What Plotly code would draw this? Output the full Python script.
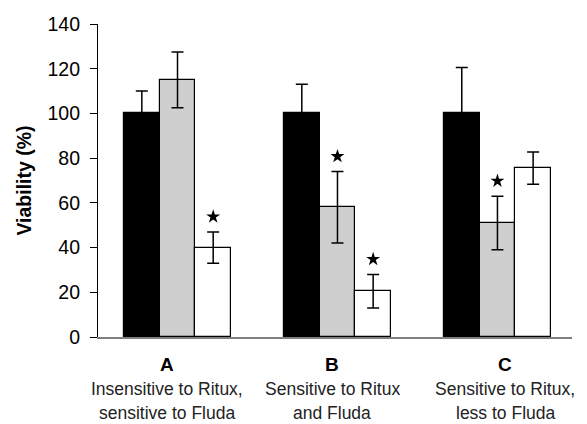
import numpy as np
import plotly.graph_objects as go

groups = ["A", "B", "C"]
desc_line1 = ["Insensitive to Ritux,", "Sensitive to Ritux", "Sensitive to Ritux,"]
desc_line2 = ["sensitive to Fluda", "and Fluda", "less to Fluda"]

black_vals = [100, 100, 100]
black_err = [10, 13, 20.5]
gray_vals = [115, 58, 51]
gray_err = [12.5, 16, 12]
white_vals = [40, 20.5, 75.5]
white_err = [7, 7.5, 7.2]

gray_star = [False, True, True]
white_star = [True, True, False]

y_ticks = [0, 20, 40, 60, 80, 100, 120, 140]

# styling
FONT = "Liberation Sans, Arial, sans-serif"
bw = 0.223
label_xshift = [-11, -5, 8]
star_gap = 6.8

idx = np.arange(len(groups))
series = [
    (black_vals, black_err, [0] * 3, "black", -1, [False] * 3),
    (gray_vals, gray_err, gray_err, "#cfcfcf", 0, gray_star),
    (white_vals, white_err, white_err, "white", 1, white_star),
]

fig = go.Figure()
for vals, ep, em, color, k, stars in series:
    xs = idx + k * bw
    fig.add_trace(go.Bar(
        x=xs, y=vals, width=bw,
        marker=dict(color=color, line=dict(color="black", width=1.2)),
        error_y=dict(type="data", symmetric=False, array=ep, arrayminus=em,
                     color="black", thickness=1.5, width=6),
        showlegend=False,
    ))
    sx = [x for x, s in zip(xs, stars) if s]
    sy = [v + e + star_gap for v, e, s in zip(vals, ep, stars) if s]
    if sx:
        fig.add_trace(go.Scatter(
            x=sx, y=sy, mode="markers",
            marker=dict(symbol="star", size=10.5, color="black"),
            showlegend=False,
        ))

annotations = []
for i, g in enumerate(groups):
    annotations.append(dict(x=i, y=0, xref="x", yref="paper", text=f"<b>{g}</b>",
                            showarrow=False, yanchor="middle", yshift=-27.5,
                            xshift=label_xshift[i], font=dict(size=19, color="black", family=FONT)))
    annotations.append(dict(x=i, y=0, xref="x", yref="paper", text=desc_line1[i],
                            showarrow=False, yanchor="middle", yshift=-51.5,
                            xshift=label_xshift[i], font=dict(size=17.5, color="#222", family=FONT)))
    annotations.append(dict(x=i, y=0, xref="x", yref="paper", text=desc_line2[i],
                            showarrow=False, yanchor="middle", yshift=-75.5,
                            xshift=label_xshift[i], font=dict(size=17.5, color="#222", family=FONT)))

fig.update_layout(
    width=587, height=424,
    margin=dict(l=98, r=15, t=24, b=86.5),
    plot_bgcolor="white", paper_bgcolor="white",
    font=dict(family=FONT, color="black"),
    bargap=0,
    annotations=annotations,
    xaxis=dict(range=[-0.497, 2.466], showticklabels=False, ticks="", showgrid=False,
               zeroline=False, showline=True, linecolor="#808080", linewidth=1.5),
    yaxis=dict(range=[0, 140], tickvals=y_ticks, ticks="outside", ticklen=7,
               tickcolor="black", tickwidth=1, showline=True, linecolor="black",
               linewidth=1.2, showgrid=False, zeroline=False,
               tickfont=dict(size=19.5, color="black", family=FONT),
               ticklabelstandoff=6,
               title=dict(text="<b>Viability (%)</b>", font=dict(size=19.5, color="black", family=FONT),
                          standoff=10)),
)

fig.write_html("out.html")
